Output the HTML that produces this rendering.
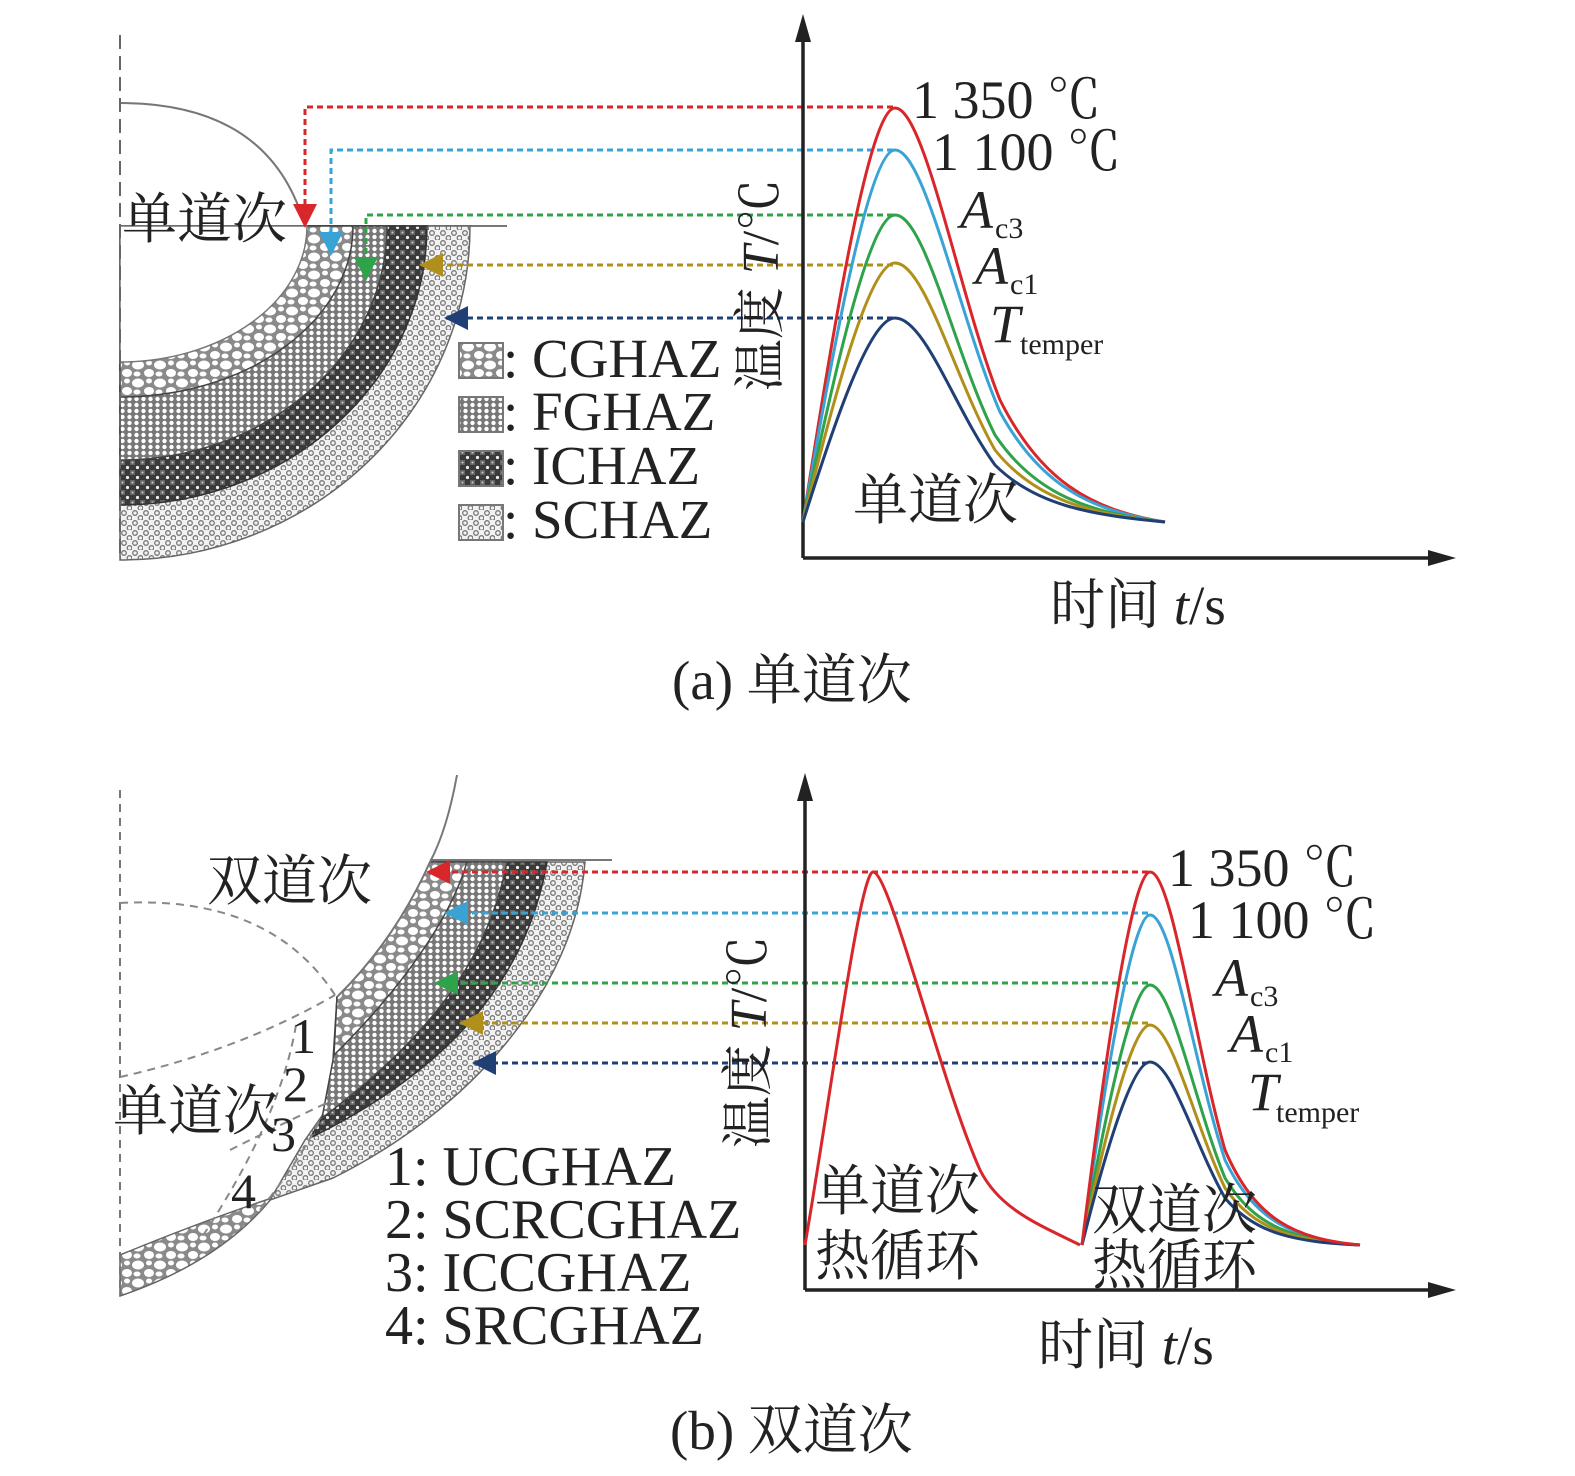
<!DOCTYPE html>
<html><head><meta charset="utf-8"><style>
html,body{margin:0;padding:0;background:#fff}
svg{display:block}
text{font-family:"Liberation Serif","Noto Serif CJK SC","Noto Sans CJK SC",serif;fill:#222}
</style></head><body>
<svg width="1575" height="1476" viewBox="0 0 1575 1476" xmlns="http://www.w3.org/2000/svg">
<defs>
<pattern id="pC" width="22" height="18" patternUnits="userSpaceOnUse">
<rect width="22" height="18" fill="#8a8a8a"/>
<ellipse cx="6" cy="5" rx="6" ry="4.5" fill="#fff"/><ellipse cx="17" cy="13" rx="5" ry="4" fill="#fff"/>
<ellipse cx="17" cy="3" rx="3" ry="2.5" fill="#fff"/><ellipse cx="5" cy="14" rx="3.5" ry="2.5" fill="#fff"/>
</pattern>
<pattern id="pF" width="7" height="6" patternUnits="userSpaceOnUse">
<rect width="7" height="6" fill="#777"/><circle cx="3.5" cy="3" r="2.2" fill="#fff"/>
</pattern>
<pattern id="pI" width="10" height="10" patternUnits="userSpaceOnUse">
<rect width="10" height="10" fill="#3a3a3a"/><rect x="0" y="0" width="5" height="5" fill="#666"/>
<circle cx="7.5" cy="7.5" r="1.6" fill="#eee"/><circle cx="2.5" cy="2.5" r="1" fill="#ccc"/>
</pattern>
<pattern id="pS" width="11" height="10" patternUnits="userSpaceOnUse">
<rect width="11" height="10" fill="#f2f2f2"/><circle cx="3" cy="3" r="2.3" fill="none" stroke="#777" stroke-width="1.3"/>
<circle cx="8.5" cy="8" r="2.3" fill="none" stroke="#777" stroke-width="1.3"/>
</pattern>
<marker id="mr" markerWidth="8" markerHeight="8" refX="6" refY="4" orient="auto"><path d="M0,0L8,4L0,8z" fill="#d9262b"/></marker>
<marker id="mb" markerWidth="8" markerHeight="8" refX="6" refY="4" orient="auto"><path d="M0,0L8,4L0,8z" fill="#3aa3d6"/></marker>
<marker id="mg" markerWidth="8" markerHeight="8" refX="6" refY="4" orient="auto"><path d="M0,0L8,4L0,8z" fill="#2fa34a"/></marker>
<marker id="mo" markerWidth="8" markerHeight="8" refX="6" refY="4" orient="auto"><path d="M0,0L8,4L0,8z" fill="#b0901a"/></marker>
<marker id="mn" markerWidth="8" markerHeight="8" refX="6" refY="4" orient="auto"><path d="M0,0L8,4L0,8z" fill="#1f3f75"/></marker>
</defs>

<!-- ===== TOP PANEL ===== -->
<path d="M120,103 Q270,103 305,226" fill="none" stroke="#777" stroke-width="2"/>
<line x1="300" y1="226" x2="507" y2="226" stroke="#777" stroke-width="2"/>
<path d="M120,226 L470,226 A350,334 0 0 1 120,560 Z" fill="url(#pS)" stroke="#666" stroke-width="1.5"/>
<path d="M120,226 L427,226 A307,279 0 0 1 120,505 Z" fill="url(#pI)" stroke="#333" stroke-width="1.5"/>
<path d="M120,226 L387,226 A267,234 0 0 1 120,460 Z" fill="url(#pF)" stroke="#444" stroke-width="1.5"/>
<path d="M120,226 L353,226 A233,171 0 0 1 120,397 Z" fill="url(#pC)" stroke="#444" stroke-width="1.5"/>
<path d="M120,226 L307,226 A187,136 0 0 1 120,362 Z" fill="#fff" stroke="#777" stroke-width="1.5"/>
<line x1="120" y1="35" x2="120" y2="558" stroke="#666" stroke-width="2" stroke-dasharray="14,7"/>
<text x="122" y="238" font-size="55">单道次</text>
<g fill="none" stroke-width="3" stroke-dasharray="6,4">
<path d="M893,107 L305,107 L305,222" stroke="#d9262b" marker-end="url(#mr)"/>
<path d="M893,150 L331,150 L331,250" stroke="#3aa3d6" marker-end="url(#mb)"/>
<path d="M893,215 L366,215 L366,275" stroke="#2fa34a" marker-end="url(#mg)"/>
<path d="M893,265 L425,265" stroke="#b0901a" marker-end="url(#mo)"/>
<path d="M893,318 L450,318" stroke="#1f3f75" marker-end="url(#mn)"/>
</g>
<rect x="459" y="343" width="44" height="35" fill="url(#pC)" stroke="#777" stroke-width="2"/>
<rect x="459" y="397" width="44" height="35" fill="url(#pF)" stroke="#777" stroke-width="2"/>
<rect x="459" y="451" width="44" height="35" fill="url(#pI)" stroke="#777" stroke-width="2"/>
<rect x="459" y="505" width="44" height="35" fill="url(#pS)" stroke="#777" stroke-width="2"/>
<g font-size="55"><text x="503" y="377">: CGHAZ</text><text x="503" y="430">: FGHAZ</text><text x="503" y="484">: ICHAZ</text><text x="503" y="538">: SCHAZ</text></g>
<g stroke="#222" stroke-width="3.5"><line x1="803" y1="30" x2="803" y2="558"/><line x1="803" y1="558" x2="1440" y2="558"/></g>
<path d="M803,14 L795,42 L811,42Z" fill="#222"/><path d="M1456,558 L1428,550 L1428,566Z" fill="#222"/>
<g fill="none" stroke-width="3">
<path d="M803,522 C835,315 870,108 895,108 C925,108 960,300 1000,400 C1040,480 1090,510 1165,522" stroke="#d9262b"/>
<path d="M803,522 C835,336 870,150 895,150 C925,150 960,320 1000,412 C1040,485 1090,511 1165,522" stroke="#3aa3d6"/>
<path d="M803,522 C835,368 870,215 895,215 C925,215 955,355 995,435 C1035,495 1090,513 1165,522" stroke="#2fa34a"/>
<path d="M803,522 C835,392 870,263 895,263 C925,263 955,380 995,450 C1035,500 1090,514 1165,522" stroke="#b0901a"/>
<path d="M803,522 C835,420 870,318 895,318 C925,318 955,410 995,465 C1035,505 1090,515 1165,522" stroke="#1f3f75"/>
</g>
<text x="912" y="118" font-size="54">1 350 ℃</text>
<text x="932" y="170" font-size="54">1 100 ℃</text>
<text x="960" y="228" font-size="54" font-style="italic">A</text><text x="995" y="238" font-size="30">c3</text>
<text x="975" y="284" font-size="54" font-style="italic">A</text><text x="1010" y="294" font-size="30">c1</text>
<text x="990" y="342" font-size="54" font-style="italic">T</text><text x="1020" y="354" font-size="30">temper</text>
<text transform="translate(778,285) rotate(-90)" font-size="52" text-anchor="middle">温度 <tspan font-style="italic">T</tspan>/℃</text>
<text x="853" y="519" font-size="55">单道次</text>
<text x="1050" y="624" font-size="55">时间 <tspan font-style="italic">t</tspan>/s</text>
<text x="672" y="699" font-size="55">(a) 单道次</text>

<!-- ===== BOTTOM PANEL ===== -->
<line x1="430" y1="860" x2="612" y2="860" stroke="#777" stroke-width="2"/>
<path d="M120,1255 Q200,1222 272,1198 Q220,1262 120,1296 Z" fill="url(#pC)" stroke="#666" stroke-width="1.5"/>
<path d="M430,862 L585,862 C575,990 470,1110 333,1178 L270,1200 L305,1140 L333,1100 L337,997 Q395,940 430,862 Z" fill="url(#pS)" stroke="#666" stroke-width="1.5"/>
<path d="M430,862 L547,862 C530,960 470,1060 310,1138 L333,1100 L337,997 Q395,940 430,862 Z" fill="url(#pI)" stroke="#333" stroke-width="1.5"/>
<path d="M430,862 L507,862 C490,950 440,1030 322,1118 L333,1060 L337,997 Q395,940 430,862 Z" fill="url(#pF)" stroke="#444" stroke-width="1.5"/>
<path d="M430,862 L467,862 C450,920 400,990 334,1055 L337,997 Q395,940 430,862 Z" fill="url(#pC)" stroke="#444" stroke-width="1.5"/>
<path d="M457,775 Q447,830 430,862 Q395,940 337,997" fill="none" stroke="#777" stroke-width="2"/>
<line x1="120" y1="790" x2="120" y2="1295" stroke="#777" stroke-width="2" stroke-dasharray="8,6"/>
<g fill="none" stroke="#888" stroke-width="2" stroke-dasharray="8,6">
<path d="M120,903 Q270,895 335,995"/>
<path d="M120,1077 Q240,1050 335,995"/>
<path d="M296,1025 Q280,1120 200,1240"/>
<path d="M230,1150 Q290,1120 333,1100"/>
<path d="M260,1210 Q300,1160 320,1120"/>
</g>
<text x="207" y="900" font-size="55">双道次</text>
<text x="113" y="1130" font-size="55">单道次</text>
<g font-size="50"><text x="291" y="1053">1</text><text x="283" y="1101">2</text><text x="271" y="1151">3</text><text x="231" y="1208">4</text></g>
<g font-size="56"><text x="385" y="1185">1: UCGHAZ</text><text x="385" y="1238">2: SCRCGHAZ</text><text x="385" y="1291">3: ICCGHAZ</text><text x="385" y="1344">4: SRCGHAZ</text></g>
<g fill="none" stroke-width="3" stroke-dasharray="6,4">
<path d="M1148,872 L432,872" stroke="#d9262b" marker-end="url(#mr)"/>
<path d="M1148,913 L450,913" stroke="#3aa3d6" marker-end="url(#mb)"/>
<path d="M1148,983 L440,983" stroke="#2fa34a" marker-end="url(#mg)"/>
<path d="M1148,1023 L465,1023" stroke="#b0901a" marker-end="url(#mo)"/>
<path d="M1148,1063 L478,1063" stroke="#1f3f75" marker-end="url(#mn)"/>
</g>
<g stroke="#222" stroke-width="3.5"><line x1="805" y1="790" x2="805" y2="1290"/><line x1="805" y1="1290" x2="1440" y2="1290"/></g>
<path d="M805,773 L797,801 L813,801Z" fill="#222"/><path d="M1456,1290 L1428,1282 L1428,1298Z" fill="#222"/>
<g fill="none" stroke-width="3">
<path d="M805,1245 C830,1100 860,872 873,872 C890,872 940,1080 980,1170 C1000,1210 1040,1225 1080,1245" stroke="#d9262b"/>
<path d="M1082,1245 C1105,1080 1132,915 1150,915 C1172,915 1195,1070 1225,1160 C1255,1222 1295,1240 1360,1245" stroke="#3aa3d6"/>
<path d="M1082,1245 C1105,1115 1132,985 1150,985 C1172,985 1195,1105 1225,1178 C1255,1228 1295,1240 1360,1245" stroke="#2fa34a"/>
<path d="M1082,1245 C1105,1135 1132,1025 1150,1025 C1172,1025 1195,1126 1225,1188 C1255,1231 1295,1241 1360,1245" stroke="#b0901a"/>
<path d="M1082,1245 C1105,1153 1132,1062 1150,1062 C1172,1062 1195,1146 1225,1198 C1255,1234 1295,1242 1360,1245" stroke="#1f3f75"/>
<path d="M1082,1245 C1105,1058 1132,872 1150,872 C1172,872 1195,1045 1225,1150 C1255,1220 1295,1239 1360,1245" stroke="#d9262b"/>
</g>
<text x="1168" y="886" font-size="54">1 350 ℃</text>
<text x="1188" y="938" font-size="54">1 100 ℃</text>
<text x="1215" y="996" font-size="54" font-style="italic">A</text><text x="1250" y="1006" font-size="30">c3</text>
<text x="1230" y="1052" font-size="54" font-style="italic">A</text><text x="1265" y="1062" font-size="30">c1</text>
<text x="1248" y="1110" font-size="54" font-style="italic">T</text><text x="1276" y="1122" font-size="30">temper</text>
<text transform="translate(766,1042) rotate(-90)" font-size="52" text-anchor="middle">温度 <tspan font-style="italic">T</tspan>/℃</text>
<text x="815" y="1210" font-size="55">单道次</text><text x="815" y="1275" font-size="55">热循环</text>
<text x="1092" y="1229" font-size="55">双道次</text><text x="1092" y="1284" font-size="55">热循环</text>
<text x="1038" y="1364" font-size="55">时间 <tspan font-style="italic">t</tspan>/s</text>
<text x="670" y="1449" font-size="55">(b) 双道次</text>
</svg>
</body></html>
